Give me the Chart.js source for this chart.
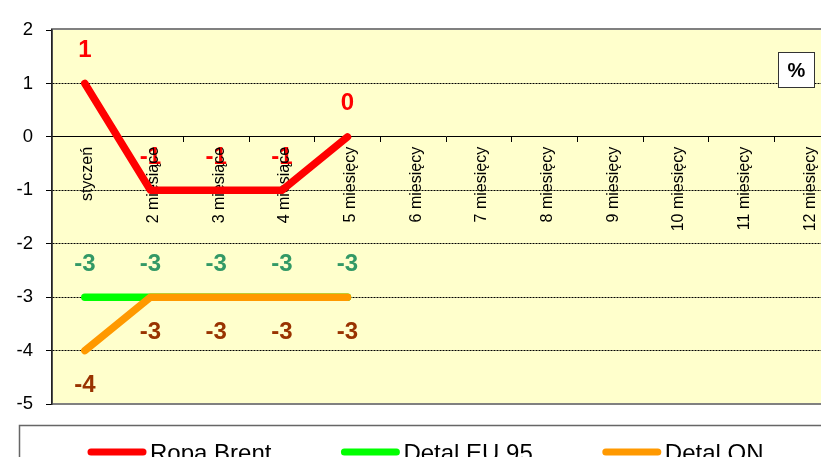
<!DOCTYPE html>
<html>
<head>
<meta charset="utf-8">
<script src="https://cdn.jsdelivr.net/npm/chart.js@4.4.0/dist/chart.umd.min.js"></script>
<style>
  html, body { margin: 0; padding: 0; background: #fff; overflow: hidden; }
  #wrap { width: 821px; height: 457px; overflow: hidden; position: relative; }
  canvas { display: block; }
</style>
</head>
<body>
<div id="wrap"><canvas id="chart" width="880" height="480"></canvas></div>
<script>
const months = ['styczeń', '2 miesiące', '3 miesiące', '4 miesiące', '5 miesięcy', '6 miesięcy',
  '7 miesięcy', '8 miesięcy', '9 miesięcy', '10 miesięcy', '11 miesięcy', '12 miesięcy']
const ropaBrent = [1, -1, -1, -1, 0, null, null, null, null, null, null, null]
const detalEU95 = [-3, -3, -3, -3, -3, null, null, null, null, null, null, null]
const detalON = [-4, -3, -3, -3, -3, null, null, null, null, null, null, null]
const yTicks = [2, 1, 0, -1, -2, -3, -4, -5]

const FONT = '"Liberation Sans", Arial, sans-serif'

// background, frame and value labels go under the axis labels
const backdrop = {
  id: 'backdrop',
  beforeDraw(chart) {
    const { ctx, chartArea: a } = chart
    ctx.save()
    ctx.fillStyle = '#FFFFCC'
    ctx.fillRect(a.left, a.top, a.right - a.left, a.bottom - a.top)
    ctx.strokeStyle = '#808080'
    ctx.lineWidth = 2
    ctx.strokeRect(a.left, a.top - 1, a.right - a.left, a.bottom - a.top + 1)

    ctx.font = 'bold 24px ' + FONT
    ctx.textAlign = 'center'
    ctx.textBaseline = 'middle'
    chart.data.datasets.forEach((ds, i) => {
      const meta = chart.getDatasetMeta(i)
      meta.data.forEach((pt, j) => {
        const v = ds.data[j]
        if (v === null || v === undefined) return
        ctx.fillStyle = ds.labelColor
        ctx.fillText(String(v), pt.x, pt.y + ds.labelShift)
      })
    })
    ctx.restore()
  },
  afterDraw(chart) {
    const { ctx } = chart
    ctx.save()
    // "%" box
    ctx.fillStyle = '#fff'
    ctx.fillRect(778, 52, 36, 35)
    ctx.strokeStyle = '#333'
    ctx.lineWidth = 1
    ctx.strokeRect(778.5, 52.5, 36, 35)
    ctx.fillStyle = '#000'
    ctx.font = 'bold 20px ' + FONT
    ctx.textAlign = 'center'
    ctx.textBaseline = 'middle'
    ctx.fillText('%', 796.5, 71)

    // legend
    ctx.strokeStyle = '#666'
    ctx.lineWidth = 1.5
    ctx.strokeRect(19.5, 425.5, 900, 80)
    ctx.font = '24px ' + FONT
    ctx.textAlign = 'left'
    ctx.textBaseline = 'alphabetic'
    let x = 88
    chart.data.datasets.forEach(ds => {
      ctx.strokeStyle = ds.borderColor
      ctx.lineWidth = 7
      ctx.lineCap = 'round'
      ctx.beginPath()
      ctx.moveTo(x + 3, 452)
      ctx.lineTo(x + 55, 452)
      ctx.stroke()
      ctx.fillStyle = '#000'
      ctx.fillText(ds.label, x + 62, 461)
      x += 62 + ctx.measureText(ds.label).width + 70
    })
    ctx.restore()
  }
}

new Chart(document.getElementById('chart'), {
  type: 'line',
  data: {
    labels: months,
    datasets: [
      { label: 'Ropa Brent', data: ropaBrent, borderColor: '#FF0000', labelColor: '#FF0000', labelShift: -33, order: 2 },
      { label: 'Detal EU 95', data: detalEU95, borderColor: '#00FF00', labelColor: '#339966', labelShift: -33, order: 1 },
      { label: 'Detal ON', data: detalON, borderColor: '#FF9900', labelColor: '#993300', labelShift: 35, order: 0 }
    ].map(ds => ({
      ...ds,
      borderWidth: 7.5,
      pointRadius: 0,
      pointHoverRadius: 0,
      borderCapStyle: 'round',
      borderJoinStyle: 'round',
      tension: 0,
      fill: false
    }))
  },
  options: {
    responsive: false,
    animation: false,
    events: [],
    layout: { padding: { left: 0, top: 30, right: 40, bottom: 76 } },
    plugins: {
      legend: { display: false },
      title: { display: false },
      tooltip: { enabled: false }
    },
    scales: {
      x: {
        type: 'category',
        offset: true,
        position: { y: 0 },
        afterFit: s => { s.height = 0 },
        grid: {
          offset: true,
          drawOnChartArea: false,
          drawTicks: true,
          tickLength: 5,
          tickColor: '#000'
        },
        border: { display: true, color: '#000', width: 1 },
        ticks: {
          autoSkip: false,
          minRotation: 90,
          maxRotation: 90,
          padding: 5,
          labelOffset: 3,
          color: '#000',
          font: { family: FONT, size: 16 }
        }
      },
      y: {
        min: -5,
        max: 2,
        afterFit: s => { s.width = 52 },
        afterBuildTicks: s => { s.ticks = yTicks.map(v => ({ value: v })) },
        grid: {
          color: c => (c.tick && (c.tick.value === 0 || c.tick.value === 2 || c.tick.value === -5)) ? 'rgba(0,0,0,0)' : '#000',
          lineWidth: 1,
          tickColor: '#000',
          tickLength: 6,
          tickBorderDash: []
        },
        border: { display: true, color: '#222', width: 1.5, dash: [2, 1] },
        ticks: {
          padding: 13,
          color: '#000',
          font: { family: FONT, size: 18.5 }
        }
      }
    }
  },
  plugins: [backdrop]
})
</script>
</body>
</html>
